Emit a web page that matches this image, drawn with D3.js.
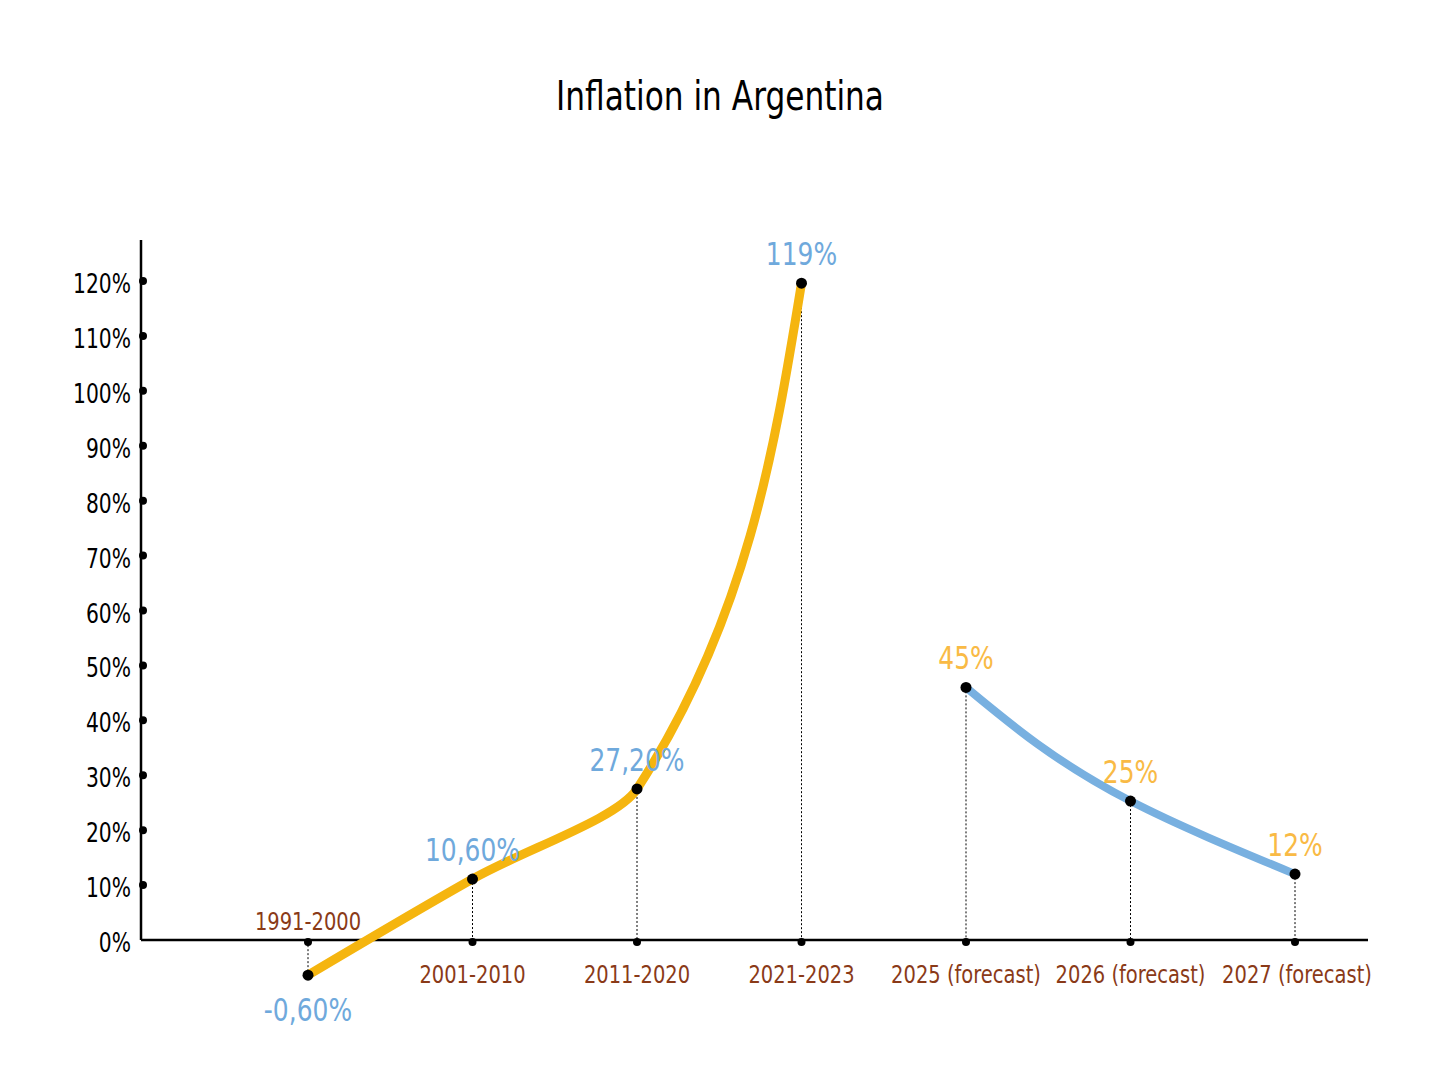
<!DOCTYPE html>
<html><head><meta charset="utf-8">
<script src="https://cdn.jsdelivr.net/npm/d3@7"></script>
<style>body{margin:0;background:#fff}text{font-family:"DejaVu Sans",sans-serif}</style>
</head><body><svg id="c" width="1440" height="1080"></svg>
<script>
var periods = ["1991-2000", "2001-2010", "2011-2020", "2021-2023", "2025 (forecast)", "2026 (forecast)", "2027 (forecast)"];
var plotted = [-6.4, 11.1, 27.5, 119.6, 46, 25.3, 12];
var labels = ["-0,60%", "10,60%", "27,20%", "119%", "45%", "25%", "12%"];
var yTicks = [0, 10, 20, 30, 40, 50, 60, 70, 80, 90, 100, 110, 120];

var svg = d3.select("#c");
var x = d3.scalePoint().domain(periods).range([308, 1295]);
var y = d3.scaleLinear().domain([0, 120]).range([940, 281]);

// condensed text: squeeze horizontally
function label(px, py, str, size, anchor, fill) {
    svg.append("g").attr("transform", "translate(" + px + "," + py + ") scale(0.78,1)")
        .append("text").attr("text-anchor", anchor).attr("font-size", size)
        .attr("fill", fill || "#000").text(str);
}

label(720, 110, "Inflation in Argentina", 40, "middle");

// axes
svg.append("line").attr("x1", 141).attr("x2", 141).attr("y1", 240).attr("y2", 940).attr("stroke", "#000").attr("stroke-width", 2.5);
svg.append("line").attr("x1", 141).attr("x2", 1368).attr("y1", y(0)).attr("y2", y(0)).attr("stroke", "#000").attr("stroke-width", 2.5);

yTicks.forEach(function (t) {
    if (t > 0) svg.append("circle").attr("cx", 143).attr("cy", y(t)).attr("r", 4);
    label(131, y(t) + 12, t + "%", 26, "end");
});

var data = periods.map(function (p, i) { return {p: p, v: plotted[i], l: labels[i], i: i}; });

// drop lines
data.forEach(function (d) {
    svg.append("line").attr("x1", x(d.p)).attr("x2", x(d.p)).attr("y1", y(d.v)).attr("y2", y(0))
        .attr("stroke", "#000").attr("stroke-width", 1).attr("stroke-dasharray", "2,2");
    svg.append("circle").attr("cx", x(d.p)).attr("cy", y(0) + 2).attr("r", 4);
});

var line = d3.line().x(function (d) { return x(d.p); }).y(function (d) { return y(d.v); }).curve(d3.curveMonotoneY);
svg.append("path").attr("d", line(data.slice(0, 4))).attr("fill", "none").attr("stroke", "#F5B50F").attr("stroke-width", 9);
svg.append("path").attr("d", line(data.slice(4))).attr("fill", "none").attr("stroke", "#78B0E0").attr("stroke-width", 8);

data.forEach(function (d) {
    svg.append("circle").attr("cx", x(d.p)).attr("cy", y(d.v)).attr("r", 5.5);
    var below = d.v < 0;
    label(x(d.p), below ? y(d.v) + 46 : y(d.v) - 18, d.l, 32, "middle", d.i < 4 ? "#6FA9DC" : "#F9BA45");
    label(x(d.p) + (d.i === 6 ? 2 : 0), d.i === 0 ? 930 : 983, d.p, 25, "middle", "#8A3A18");
});
</script></body></html>
